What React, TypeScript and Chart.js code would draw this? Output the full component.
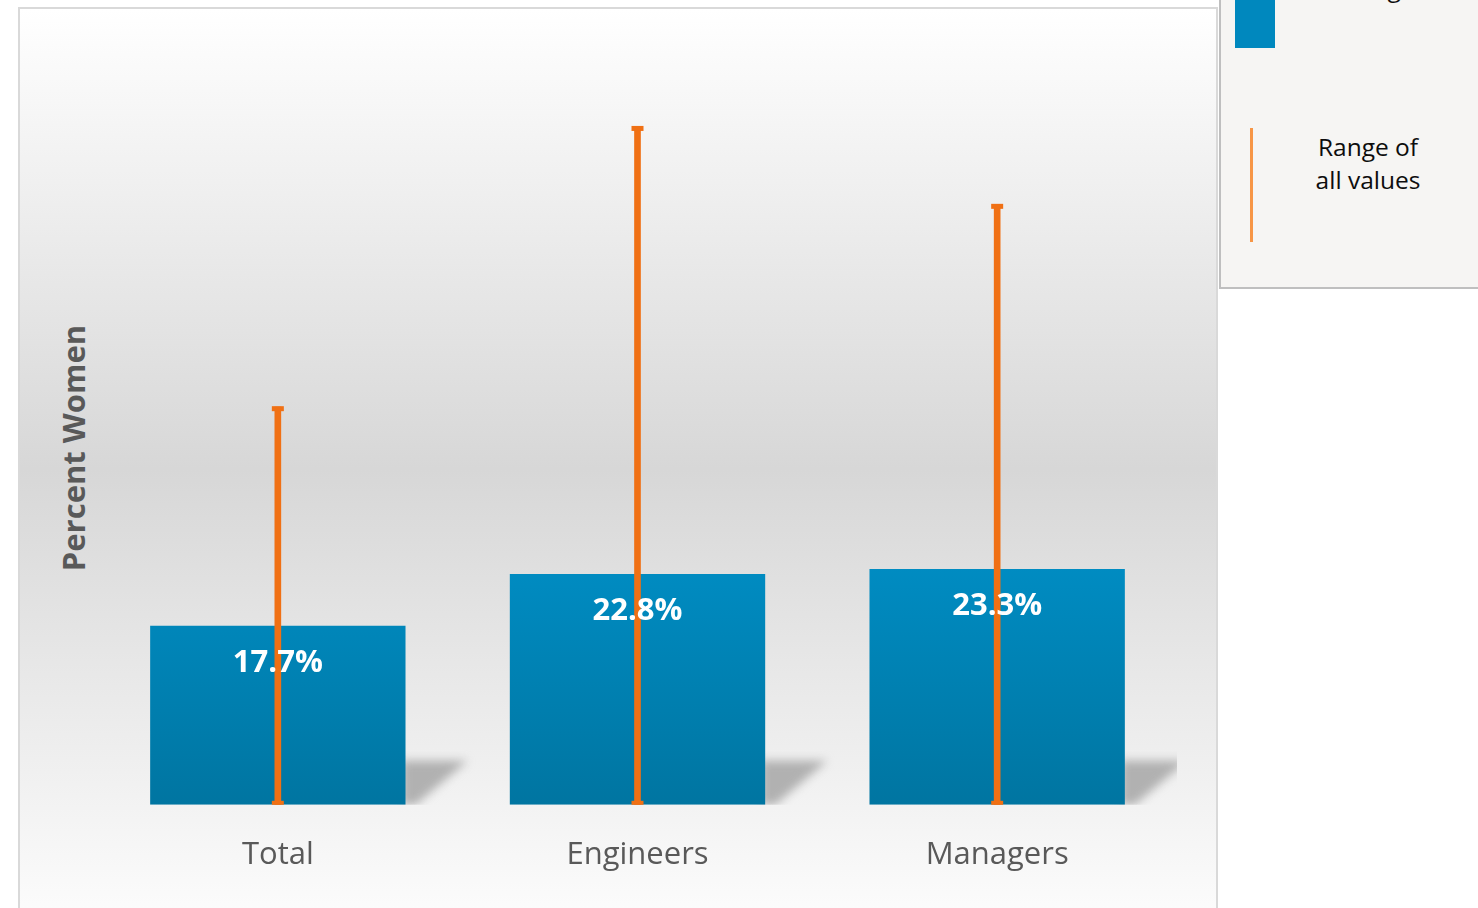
import React, { useEffect, useRef } from "react";
import { Chart, registerables } from "chart.js";

Chart.register(...registerables);

const categories = ["Total", "Engineers", "Managers"];
const averageValues = [17.7, 22.8, 23.3];
const rangeMin = [0, 0, 0];
const rangeMax = [39.3, 67.0, 59.3];
const valueLabels = ["17.7%", "22.8%", "23.3%"];

const FONT = "'Open Sans', 'DejaVu Sans', sans-serif";

const decorPlugin = {
  id: "decor",
  beforeDatasetsDraw(chart: any) {
    const { ctx, chartArea } = chart;
    const meta = chart.getDatasetMeta(0);
    ctx.save();
    ctx.beginPath();
    ctx.rect(chartArea.left, chartArea.top, chartArea.right - chartArea.left, chartArea.bottom - chartArea.top);
    ctx.clip();
    meta.data.forEach((bar: any) => {
      const right = bar.x + bar.width / 2;
      const bottom = bar.base;
      ctx.save();
      ctx.filter = "blur(5px)";
      ctx.fillStyle = "rgba(150,150,150,0.7)";
      ctx.beginPath();
      ctx.moveTo(right - 4, bottom - 44);
      ctx.lineTo(right + 62, bottom - 44);
      ctx.lineTo(right + 10, bottom);
      ctx.lineTo(right - 4, bottom);
      ctx.closePath();
      ctx.fill();
      ctx.restore();
    });
    ctx.restore();
  },
  afterDatasetsDraw(chart: any) {
    const { ctx } = chart;
    const barMeta = chart.getDatasetMeta(0);
    const rangeMeta = chart.getDatasetMeta(1);
    ctx.save();
    ctx.fillStyle = "#f07014";
    rangeMeta.data.forEach((r: any) => {
      const top = Math.min(r.y, r.base);
      const bot = Math.max(r.y, r.base);
      ctx.fillRect(r.x - 6, top - 1, 12, 5);
      ctx.fillRect(r.x - 6, bot - 4, 12, 4);
    });
    ctx.fillStyle = "#ffffff";
    ctx.font = `bold 31px ${FONT}`;
    ctx.textAlign = "center";
    ctx.textBaseline = "middle";
    barMeta.data.forEach((bar: any, i: number) => {
      ctx.fillText(valueLabels[i], bar.x, bar.y + 37);
    });
    ctx.restore();
  },
};

export default function App() {
  const canvasRef = useRef<HTMLCanvasElement>(null);

  useEffect(() => {
    const canvas = canvasRef.current;
    if (!canvas) return;
    const chart = new Chart(canvas, {
      type: "bar",
      data: {
        labels: categories,
        datasets: [
          {
            label: "Average",
            data: averageValues,
            backgroundColor: (c: any) => {
              const area = c.chart.chartArea;
              if (!area) return "#0088be";
              const g = c.chart.ctx.createLinearGradient(0, area.bottom - 240, 0, area.bottom);
              g.addColorStop(0, "#008cc2");
              g.addColorStop(1, "#0075a1");
              return g;
            },
            categoryPercentage: 0.71,
            barPercentage: 1,
            grouped: false,
            order: 2,
          },
          {
            label: "Range of all values",
            data: rangeMin.map((m, i) => [m, rangeMax[i]]) as any,
            backgroundColor: "#f07014",
            barThickness: 6,
            grouped: false,
            order: 1,
          },
        ],
      },
      options: {
        animation: false,
        responsive: false,
        maintainAspectRatio: false,
        layout: { padding: { left: 98, right: 301, top: 46, bottom: 2 } },
        plugins: { legend: { display: false }, tooltip: { enabled: false } },
        scales: {
          x: {
            grid: { display: false, drawTicks: false },
            border: { display: false },
            ticks: { color: "#595959", font: { family: FONT, size: 31 }, padding: 32 },
          },
          y: {
            display: false,
            min: 0,
            max: 75,
            grid: { display: false, drawTicks: false },
            border: { display: false },
            ticks: { display: false },
          },
        },
      },
      plugins: [decorPlugin],
    });
    return () => chart.destroy();
  }, []);

  return (
    <div style={{ position: "fixed", left: 0, top: 0, width: 1478, height: 908, overflow: "hidden", background: "#ffffff" }}>
      <div
        style={{
          position: "absolute",
          left: 18,
          top: 7,
          width: 1196,
          height: 920,
          border: "2px solid #d9d9d9",
          background: "linear-gradient(to bottom, #ffffff 0%, #d7d7d7 50%, #fdfdfd 100%)",
        }}
      />
      <div
        style={{
          position: "absolute",
          left: 73 - 150,
          top: 448 - 20,
          width: 300,
          height: 40,
          lineHeight: "40px",
          textAlign: "center",
          transform: "rotate(-90deg)",
          fontFamily: FONT,
          fontWeight: "bold",
          fontSize: 31,
          color: "#595959",
          whiteSpace: "nowrap",
        }}
      >
        Percent Women
      </div>
      <canvas ref={canvasRef} width={1478} height={908} style={{ position: "absolute", left: 0, top: 0, width: 1478, height: 908 }} />
      <div
        style={{
          position: "absolute",
          left: 1219,
          top: -80,
          width: 300,
          height: 365,
          background: "#f6f5f3",
          border: "2px solid #bfbfbf",
          fontFamily: FONT,
          fontSize: 24.5,
          color: "#0d0d0d",
        }}
      >
        <div style={{ position: "absolute", left: 14, top: 38, width: 40, height: 88, background: "#0088be" }} />
        <div style={{ position: "absolute", left: 75, top: 49, width: 145, textAlign: "center", lineHeight: "33px" }}>Average</div>
        <div style={{ position: "absolute", left: 29, top: 206, width: 3, height: 114, background: "#f79646" }} />
        <div style={{ position: "absolute", left: 72, top: 208, width: 150, textAlign: "center", lineHeight: "33px" }}>
          Range of
          <br />
          all values
        </div>
      </div>
    </div>
  );
}
